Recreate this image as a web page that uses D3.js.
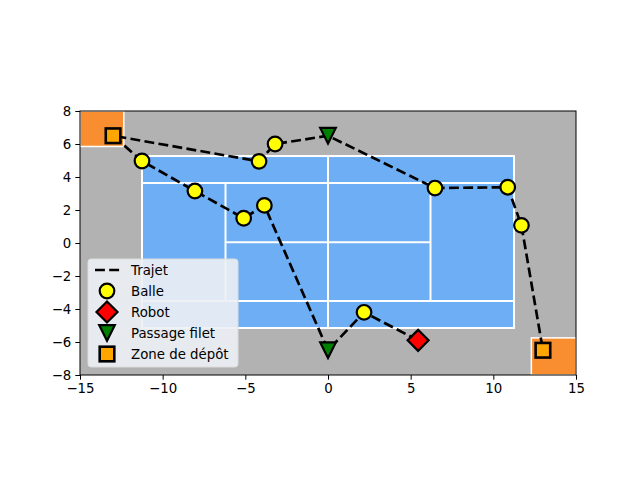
<!DOCTYPE html>
<html><head><meta charset="utf-8">
<script src="https://cdn.jsdelivr.net/npm/d3@7"></script>
<style>body{margin:0;background:#fff}svg{display:block;font-family:"DejaVu Sans",sans-serif}</style>
</head><body>
<svg id="c" width="640" height="480"></svg>
<script>
// ---- data ----
const xTicks = [-15,-10,-5,0,5,10,15];
const yTicks = [-8,-6,-4,-2,0,2,4,6,8];
const courtX = [-11.25, 11.25];
const courtY = [-5.15, 5.27];
const singlesY = [-3.52, 3.63];
const serviceX = [-6.2, 6.2];
const centerY = 0.05;
const zones = [[-15, -12.35, 5.85, 8], [12.3, 15, -8, -5.75]];
const pathX = [5.45, 2.18, 0, -3.85, -5.1, -8.05, -11.25, -13, -4.17, -3.2, 0, 6.47, 10.87, 11.7, 13];
const pathY = [-5.9, -4.2, -6.5, 2.28, 1.5, 3.15, 4.97, 6.5, 4.95, 6.0, 6.5, 3.33, 3.38, 1.07, -6.5];
const ballsX = [-11.25, -8.05, -5.1, -3.85, -4.17, -3.2, 6.47, 10.87, 11.7, 2.18];
const ballsY = [4.97, 3.15, 1.5, 2.28, 4.95, 6.0, 3.33, 3.38, 1.07, -4.2];
const robot = [5.45, -5.9];
const netX = [0, 0];
const netY = [6.5, -6.5];
const depotX = [-13, 13];
const depotY = [6.5, -6.5];
const legendLabels = ["Trajet", "Balle", "Robot", "Passage filet", "Zone de dépôt"];

// ---- layout ----
const svg = d3.select("#c");
const L = 80, R = 576, T = 111, B = 375;
const x = d3.scaleLinear().domain([-15, 15]).range([L, R]);
const y = d3.scaleLinear().domain([-8, 8]).range([B, T]);

svg.append("rect").attr("x", L).attr("y", T).attr("width", R - L).attr("height", B - T).attr("fill", "#b2b2b2");

// zones
zones.forEach(z => {
  svg.append("rect").attr("x", x(z[0])).attr("y", y(z[3])).attr("width", x(z[1]) - x(z[0])).attr("height", y(z[2]) - y(z[3]))
    .attr("fill", "#f98e30").attr("stroke", "#fff").attr("stroke-width", 1.5);
});

// court
const g = svg.append("g").attr("stroke", "#fff").attr("stroke-width", 2).attr("fill", "none");
g.append("rect").attr("x", x(courtX[0])).attr("y", y(courtY[1])).attr("width", x(courtX[1]) - x(courtX[0])).attr("height", y(courtY[0]) - y(courtY[1])).attr("fill", "#6daef4");
singlesY.forEach(v => g.append("line").attr("x1", x(courtX[0])).attr("x2", x(courtX[1])).attr("y1", y(v)).attr("y2", y(v)));
serviceX.forEach(v => g.append("line").attr("x1", x(v)).attr("x2", x(v)).attr("y1", y(singlesY[0])).attr("y2", y(singlesY[1])));
g.append("line").attr("x1", x(serviceX[0])).attr("x2", x(serviceX[1])).attr("y1", y(centerY)).attr("y2", y(centerY));
g.append("line").attr("x1", x(0)).attr("x2", x(0)).attr("y1", y(courtY[0])).attr("y2", y(courtY[1]));

// path
const line = d3.line().x(d => x(d[0])).y(d => y(d[1]));
svg.append("path").datum(d3.zip(pathX, pathY)).attr("d", line).attr("fill", "none").attr("stroke", "#000")
  .attr("stroke-width", 2.67).attr("stroke-dasharray", "9.9,4.3");

// markers
function circleM(sel, cx, cy, r) { return sel.append("circle").attr("cx", cx).attr("cy", cy).attr("r", r).attr("fill", "#ffff00").attr("stroke", "#000").attr("stroke-width", 2.2); }
function diamondM(sel, cx, cy, s) { return sel.append("path").attr("d", `M${cx},${cy - s}L${cx + s},${cy}L${cx},${cy + s}L${cx - s},${cy}Z`).attr("fill", "#ff0000").attr("stroke", "#000").attr("stroke-width", 2.2); }
function triM(sel, cx, cy, s) { return sel.append("path").attr("d", `M${cx},${cy + s}L${cx - s},${cy - s}L${cx + s},${cy - s}Z`).attr("fill", "#008000").attr("stroke", "#000").attr("stroke-width", 2.2).attr("stroke-linejoin", "miter"); }
function sqM(sel, cx, cy, s) { return sel.append("rect").attr("x", cx - s).attr("y", cy - s).attr("width", 2 * s).attr("height", 2 * s).attr("fill", "#ffa500").attr("stroke", "#000").attr("stroke-width", 2.6); }

ballsX.forEach((bx, i) => circleM(svg, x(bx), y(ballsY[i]), 7.3));
diamondM(svg, x(robot[0]), y(robot[1]), 10.5);
netX.forEach((nx, i) => triM(svg, x(nx), y(netY[i]), 7.8));
depotX.forEach((dx, i) => sqM(svg, x(dx), y(depotY[i]), 7.3));

// frame
svg.append("rect").attr("x", L).attr("y", T).attr("width", R - L).attr("height", B - T).attr("fill", "none").attr("stroke", "#000").attr("stroke-width", 1);

// axes
const xa = svg.append("g").attr("transform", `translate(0,${B})`).call(d3.axisBottom(x).tickValues(xTicks).tickSize(4.7).tickPadding(4).tickFormat(d => d < 0 ? "\u2212" + Math.abs(d) : d));
const ya = svg.append("g").attr("transform", `translate(${L},0)`).call(d3.axisLeft(y).tickValues(yTicks).tickSize(4.7).tickPadding(4).tickFormat(d => d < 0 ? "\u2212" + Math.abs(d) : d));
[xa, ya].forEach(a => { a.select(".domain").remove(); a.selectAll("text").attr("font-size", 13.33).attr("font-family", "DejaVu Sans").attr("fill", "#000"); a.selectAll("line").attr("stroke", "#000").attr("stroke-width", 1); });

// legend
const lg = svg.append("g");
lg.append("rect").attr("x", 88).attr("y", 259).attr("width", 150).attr("height", 108).attr("rx", 3)
  .attr("fill", "#eceff4").attr("fill-opacity", 0.9).attr("stroke", "#dcdcdc").attr("stroke-width", 1);
const ly = [270, 291, 312, 333, 354];
lg.append("line").attr("x1", 95).attr("x2", 120).attr("y1", ly[0]).attr("y2", ly[0]).attr("stroke", "#000").attr("stroke-width", 2.67).attr("stroke-dasharray", "9.9,4.3");
circleM(lg, 107, ly[1], 7.3);
diamondM(lg, 107, ly[2], 10.5);
triM(lg, 107, ly[3], 7.8);
sqM(lg, 107, ly[4], 7.3);
legendLabels.forEach((t, i) => lg.append("text").attr("x", 131).attr("y", ly[i] + 4.8).attr("font-size", 13.33).attr("fill", "#000").text(t));
</script>
</body></html>
